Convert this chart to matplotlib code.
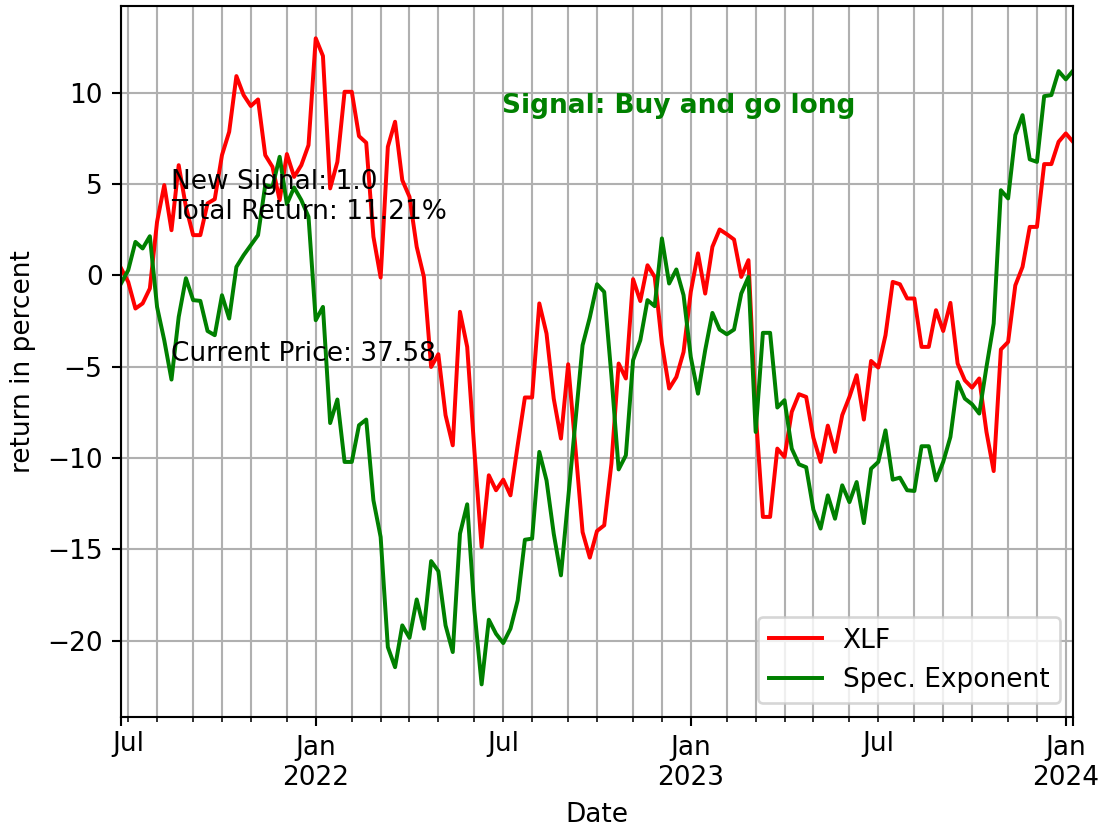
import numpy as np
import pandas as pd
import matplotlib
matplotlib.use('Agg')
import matplotlib.pyplot as plt

# weekly closes (yfinance style, Monday stamps)
start_date = '2021-06-28'

xlf_ret = [0.4, -0.35, -1.81, -1.53, -0.71, 2.94, 4.95, 2.48, 6.04, 3.76,
           2.21, 2.21, 3.95, 4.18, 6.59, 7.87, 10.92, 9.88, 9.28, 9.64,
           6.59, 5.95, 4.13, 6.65, 5.40, 6.04, 7.14, 12.99, 12.02, 4.77,
           6.22, 10.06, 10.06, 7.63, 7.27, 2.12, -0.11, 7.05, 8.42, 5.22,
           4.31, 1.57, -0.08, -5.01, -4.31, -7.65, -9.30, -1.99, -3.91, -9.6,
           -14.87, -10.94, -11.76, -11.18, -12.04, -9.3, -6.68, -6.68, -1.53, -3.18,
           -6.74, -8.93, -4.86, -9.4, -14.05, -15.45, -13.99, -13.68, -10.3, -4.82,
           -5.64, -0.2, -1.4, 0.56, -0.08, -3.73, -6.19, -5.56, -4.19, -0.9,
           1.21, -0.99, 1.57, 2.52, 2.26, 1.97, -0.08, 0.84, -7.5, -13.22,
           -13.22, -9.48, -9.94, -7.47, -6.50, -6.65, -8.88, -10.21, -8.22, -9.66,
           -7.65, -6.65, -5.46, -7.89, -4.68, -5.04, -3.27, -0.35, -0.48, -1.26,
           -1.26, -3.91, -3.91, -1.90, -3.04, -1.50, -4.82, -5.74, -6.14, -5.64,
           -8.57, -10.71, -4.05, -3.64, -0.54, 0.47, 2.66, 2.66, 6.10, 6.10,
           7.32, 7.78, 7.32]

spec_exp = [-0.44, 0.29, 1.84, 1.48, 2.15, -1.72, -3.55, -5.70, -2.27, -0.15,
            -1.35, -1.39, -3.04, -3.27, -1.08, -2.36, 0.47, 1.11, 1.66, 2.21,
            4.95, 4.86, 6.50, 3.91, 4.82, 4.13, 3.21, -2.45, -1.72, -8.08,
            -6.79, -10.21, -10.21, -8.20, -7.89, -12.31, -14.32, -20.35, -21.45, -19.16,
            -19.84, -17.74, -19.34, -15.64, -16.19, -19.16, -20.62, -14.14, -12.53, -18.34,
            -22.39, -18.85, -19.62, -20.13, -19.34, -17.79, -14.47, -14.41, -9.66, -11.22,
            -14.14, -16.42, -12.22, -8.02, -3.82, -2.30, -0.48, -0.90, -5.5, -10.62,
            -9.85, -4.64, -3.55, -1.35, -1.68, 2.03, -0.44, 0.33, -1.08, -4.46,
            -6.47, -4.09, -2.05, -2.96, -3.22, -2.96, -0.99, -0.08, -8.57, -3.14,
            -3.14, -7.23, -6.83, -9.48, -10.34, -10.50, -12.82, -13.86, -12.04, -13.32,
            -11.49, -12.41, -11.31, -13.56, -10.58, -10.21, -8.48, -11.18, -11.07, -11.76,
            -11.80, -9.35, -9.35, -11.22, -10.21, -8.84, -5.83, -6.74, -7.05, -7.56,
            -5.01, -2.63, 4.67, 4.22, 7.69, 8.78, 6.36, 6.22, 9.82, 9.88,
            11.19, 10.74, 11.21]

new_signal = 1.0
total_return = 11.21
current_price = 37.58
signal_text = 'Signal: Buy and go long'

dates = pd.date_range(start_date, periods=len(xlf_ret), freq='W-MON', name='Date')
df = pd.DataFrame({'XLF': xlf_ret, 'Spec. Exponent': spec_exp}, index=dates)

dpi = 190
fig = plt.figure(figsize=(1102 / dpi, 829 / dpi), dpi=dpi)
ax = fig.add_axes([0.1098, 0.1355, 0.8639, 0.8573])

df.plot(ax=ax, color=['red', 'green'])
ax.grid(True, which='both')
ax.set_ylabel('return in percent')
ax.legend(loc='lower right')

ax.text(0.053, 0.70, 'New Signal: %.1f\nTotal Return: %.2f%%' % (new_signal, total_return),
        transform=ax.transAxes)
ax.text(0.053, 0.50, 'Current Price: %.2f' % current_price, transform=ax.transAxes)
ax.text(0.40, 0.85, signal_text, transform=ax.transAxes, color='green', fontweight='bold')

fig.savefig('out.png', dpi=dpi)
